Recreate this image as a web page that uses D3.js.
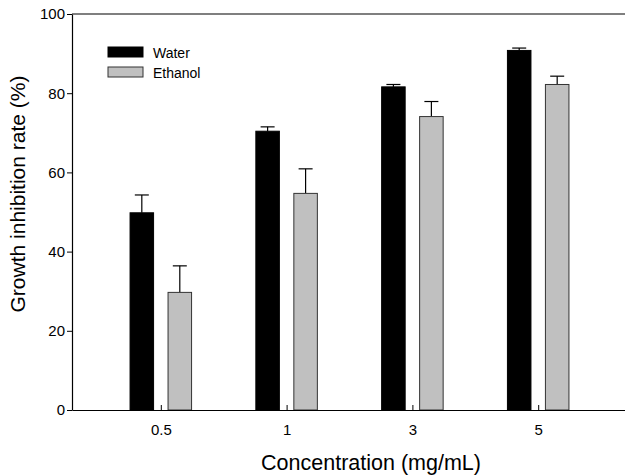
<!DOCTYPE html>
<html>
<head>
<meta charset="utf-8">
<script src="https://cdn.jsdelivr.net/npm/d3@7"></script>
<style>
  body { margin: 0; background: #fff; }
  svg { display: block; font-family: "Liberation Sans", Arial, sans-serif; }
</style>
</head>
<body>
<div id="chart"></div>
<script>
// Data
const concentrations = ["0.5", "1", "3", "5"];
const seriesNames = ["Water", "Ethanol"];
const waterValues = [49.8, 70.4, 81.6, 90.8];
const waterErrors = [4.5, 1.1, 0.6, 0.6];
const ethanolValues = [29.7, 54.7, 74.1, 82.2];
const ethanolErrors = [6.7, 6.2, 3.8, 2.1];
const yTicks = [0, 20, 40, 60, 80, 100];

const seriesColours = [
    { fill: "#000000", stroke: "#000000" },
    { fill: "#c0c0c0", stroke: "#333333" }
];

const drawBarChart = () => {
    const width = 625;
    const height = 476;
    const margin = {top: 14, left: 72, right: -2, bottom: 66};
    const innerWidth = width - margin.left - margin.right;
    const innerHeight = height - margin.top - margin.bottom;

    const svg = d3.select("#chart")
        .append("svg")
            .attr("width", width)
            .attr("height", height);

    const innerChart = svg
        .append("g")
            .attr("transform", `translate(${margin.left}, ${margin.top})`);

    // Scales
    const xScale = d3.scalePoint()
        .domain(concentrations)
        .range([0, innerWidth])
        .padding(0.706);
    const step = xScale.step();
    const barWidth = step * 0.187;
    const gap = step * 0.115;

    const yScale = d3.scaleLinear()
        .domain([0, 100])
        .range([innerHeight, 0]);

    // Build rows for binding
    const rows = [];
    concentrations.forEach((c, i) => {
        rows.push({ conc: c, series: 0, value: waterValues[i], err: waterErrors[i] });
        rows.push({ conc: c, series: 1, value: ethanolValues[i], err: ethanolErrors[i] });
    });
    const barX = d => d.series === 0
        ? xScale(d.conc) - gap / 2 - barWidth
        : xScale(d.conc) + gap / 2;

    // Top frame line
    innerChart.append("line")
        .attr("x1", 0)
        .attr("x2", innerWidth)
        .attr("y1", 0)
        .attr("y2", 0)
        .attr("stroke", "#000")
        .attr("stroke-width", 1.2);

    // Error bars (drawn first so bar tops sit over the stem)
    const errG = innerChart.selectAll(".err")
        .data(rows)
        .join("g")
        .attr("class", "err")
        .attr("stroke", "#000")
        .attr("stroke-width", 1.2);
    errG.append("line")
        .attr("x1", d => barX(d) + barWidth / 2)
        .attr("x2", d => barX(d) + barWidth / 2)
        .attr("y1", d => yScale(d.value))
        .attr("y2", d => yScale(d.value + d.err));
    errG.append("line")
        .attr("x1", d => barX(d) + barWidth / 2 - 7)
        .attr("x2", d => barX(d) + barWidth / 2 + 7)
        .attr("y1", d => yScale(d.value + d.err))
        .attr("y2", d => yScale(d.value + d.err));

    // Bars
    innerChart.selectAll(".bar")
        .data(rows)
        .join("rect")
        .attr("class", "bar")
        .attr("x", d => barX(d))
        .attr("y", d => yScale(d.value))
        .attr("width", barWidth)
        .attr("height", d => innerHeight - yScale(d.value))
        .attr("fill", d => seriesColours[d.series].fill)
        .attr("stroke", d => seriesColours[d.series].stroke)
        .attr("stroke-width", 1);

    // Y axis
    const leftAxis = d3.axisLeft(yScale)
        .tickValues(yTicks)
        .tickSize(5)
        .tickPadding(2)
        .tickSizeOuter(0);
    const yAxisG = innerChart.append("g")
        .attr("class", "axis-y")
        .call(leftAxis);
    yAxisG.select(".domain").attr("stroke-width", 1.2);
    yAxisG.selectAll("text")
        .style("font-size", "15px")
        .style("font-family", "'Liberation Sans', Arial, sans-serif")
        .attr("fill", "#000");

    // X axis: small ticks pointing up
    const bottomAxis = d3.axisBottom(xScale)
        .tickSize(-5)
        .tickSizeOuter(0)
        .tickPadding(14);
    const xAxisG = innerChart.append("g")
        .attr("class", "axis-x")
        .attr("transform", `translate(0, ${innerHeight})`)
        .call(bottomAxis);
    xAxisG.select(".domain").attr("stroke-width", 1.2);
    xAxisG.selectAll("text")
        .style("font-size", "15px")
        .style("font-family", "'Liberation Sans', Arial, sans-serif")
        .attr("fill", "#000");

    // Axis titles
    svg.append("text")
        .attr("transform", "translate(25, 194) rotate(-90)")
        .attr("text-anchor", "middle")
        .style("font-size", "21px")
        .text("Growth inhibition rate (%)");

    svg.append("text")
        .attr("x", 371)
        .attr("y", 470)
        .attr("text-anchor", "middle")
        .style("font-size", "21.5px")
        .text("Concentration (mg/mL)");

    // Legend
    const legend = svg.append("g")
        .attr("transform", "translate(108, 47)");
    const legendItems = legend.selectAll(".legend-item")
        .data(seriesNames)
        .join("g")
        .attr("class", "legend-item")
        .attr("transform", (d, i) => `translate(0, ${i * 20})`);
    legendItems.append("rect")
        .attr("width", 35)
        .attr("height", 10)
        .attr("fill", (d, i) => seriesColours[i].fill)
        .attr("stroke", (d, i) => seriesColours[i].stroke)
        .attr("stroke-width", 1);
    legendItems.append("text")
        .attr("x", 45)
        .attr("y", 11)
        .style("font-size", "14px")
        .text(d => d);
};

drawBarChart();
</script>
</body>
</html>
